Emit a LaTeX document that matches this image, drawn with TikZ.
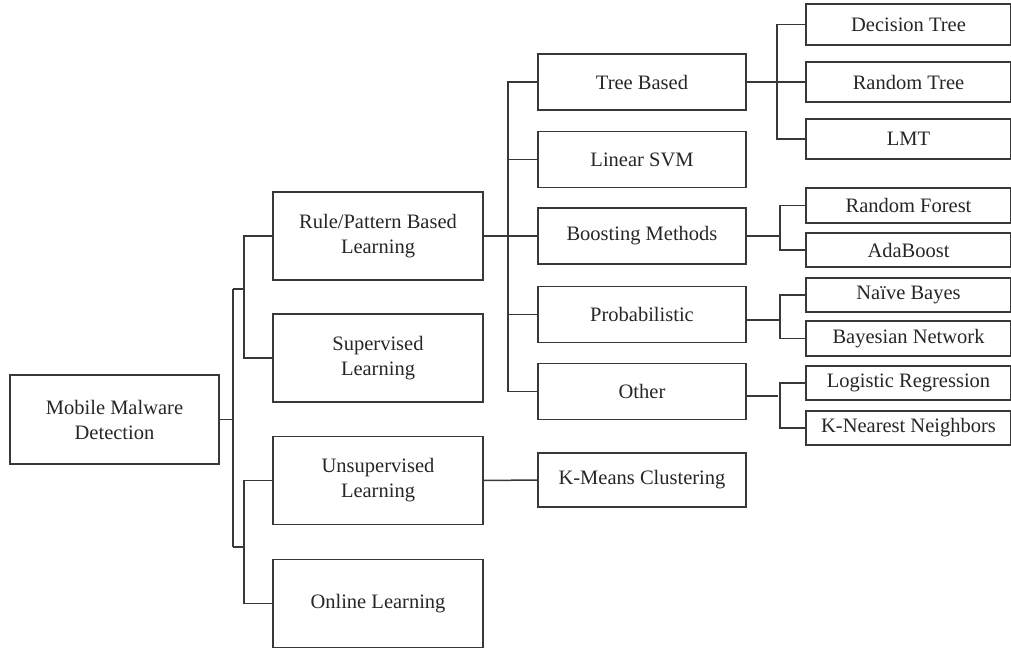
\documentclass[tikz,border=0pt]{standalone}
\usepackage{fontspec}
\setmainfont{Liberation Serif}
\definecolor{ln}{HTML}{383838}
\definecolor{tx}{HTML}{262626}
\begin{document}
\begin{tikzpicture}[x=1pt,y=-1pt,
  box/.style={draw=ln, line width=1.5pt, text=tx, align=center, inner sep=0pt,
    font=\fontsize{20.5}{25}\selectfont},
  lone/.style={box, minimum width=210pt, minimum height=88pt},
  ltwo/.style={box, minimum width=208pt, minimum height=56pt},
  lthree/.style={box, minimum width=205pt},
  conn/.style={draw=ln, line width=1.5pt}]
\useasboundingbox (0,0) rectangle (1011,650);
% level 0
\node[box, minimum width=209pt, minimum height=89pt] (root) at (114.5,419.5) {Mobile Malware\\Detection};
% level 1
\node[lone] (rule) at (378,236) {Rule/Pattern Based\\Learning};
\node[lone] (sup) at (378,358) {Supervised\\Learning};
\node[lone] (unsup) at (378,480.5) {Unsupervised\\Learning};
\node[lone] (online) at (378,603.5) {Online Learning};
% level 2
\node[ltwo] (tree) at (642,82) {Tree Based};
\node[ltwo] (svm) at (642,159.5) {Linear SVM};
\node[ltwo] (boost) at (642,236) {Boosting Methods};
\node[ltwo] (prob) at (642,314.5) {Probabilistic};
\node[ltwo] (other) at (642,391.5) {Other};
\node[ltwo, minimum height=54pt] (kmeans) at (642,480) {K-Means Clustering};
% level 3
\node[lthree, minimum height=41pt] (dt) at (908.5,24.5) {Decision Tree};
\node[lthree, minimum height=40pt] (rt) at (908.5,82) {Random Tree};
\node[lthree, minimum height=40pt] (lmt) at (908.5,139) {LMT};
\node[lthree, minimum height=35pt] (rf) at (908.5,205.5) {Random Forest};
\node[lthree, minimum height=34pt] (ada) at (908.5,250) {AdaBoost};
\node[lthree, minimum height=34pt] (nb) at (908.5,295) {Naïve Bayes};
\node[lthree, minimum height=35pt] (bn) at (908.5,338.5) {Bayesian Network};
\node[lthree, minimum height=34pt] (lr) at (908.5,383) {Logistic Regression};
\node[lthree, minimum height=34pt] (knn) at (908.5,428) {K-Nearest Neighbors};
% trunk
\coordinate (ta) at (233,289);
\coordinate (tb) at (233,547);
\draw[conn] (root.east) -- (root.east -| ta);
\draw[conn] (ta) -- (tb);
\draw[conn] (rule.west) -- (rule.west -| 244,0) |- (sup.west);
\draw[conn] (unsup.west) -- (unsup.west -| 244,0) |- (online.west);
\draw[conn] (ta) -- (244,289);
\draw[conn] (tb) -- (244,547);
% level 2 bracket
\draw[conn] (tree.west) -- (tree.west -| 508,0) |- (other.west);
\draw[conn] (svm.west) -- (svm.west -| 508,0);
\draw[conn] (prob.west) -- (prob.west -| 508,0);
\draw[conn] (rule.east) -- (boost.west);
\draw[conn] (unsup.east) -- (kmeans.west);
% level 3 brackets
\draw[conn] (dt.west) -- (dt.west -| 777,0) |- (lmt.west);
\draw[conn] (tree.east) -- (rt.west);
\draw[conn] (rf.west) -- (rf.west -| 780,0) |- (ada.west);
\draw[conn] (boost.east) -- (boost.east -| 780,0);
\draw[conn] (nb.west) -- (nb.west -| 780,0) |- (bn.west);
\draw[conn] (prob.east |- 0,320) -- (780,320);
\draw[conn] (lr.west) -- (lr.west -| 780,0) |- (knn.west);
\draw[conn] (other.east |- 0,396) -- (778,396);
\end{tikzpicture}
\end{document}
